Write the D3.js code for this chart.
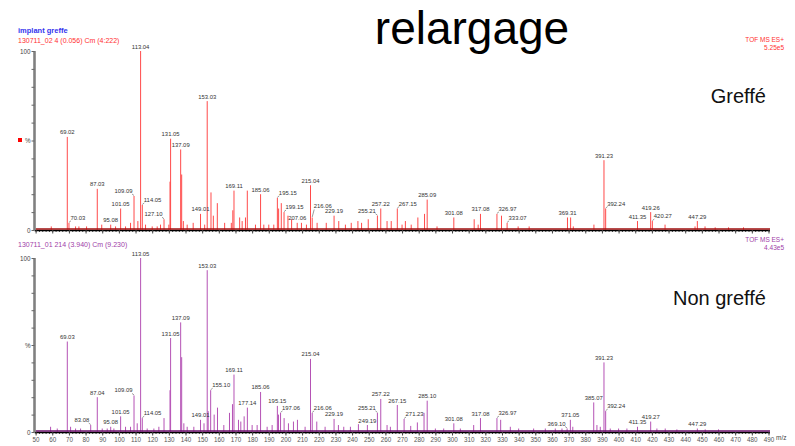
<!DOCTYPE html>
<html><head><meta charset="utf-8">
<script src="https://cdn.jsdelivr.net/npm/d3@7"></script>
<style>body{margin:0;background:#fff}svg{display:block;font-family:"Liberation Sans",Arial,sans-serif}</style>
</head><body><svg id="c" width="795" height="446"></svg>
<script>
// ---------- data ----------
const mzDomain = [50, 490];
const xTickValues = d3.range(50, 491, 10);
const xMinorTickValues = d3.range(50, 491, 2);
const yTickValues = d3.range(0, 101, 10);
const yTickText = {0: "0", 50: "%", 100: "100"};

const titleText = "relargage";
const topName = "implant greffe";
const topRun = "130711_02 4 (0.056) Cm (4:222)";
const topMode = "TOF MS ES+";
const topScale = "5.25e5";
const topTag = "Greffé";
const botRun = "130711_01 214 (3.940) Cm (9.230)";
const botMode = "TOF MS ES+";
const botScale = "4.43e5";
const botTag = "Non greffé";

// labelled peaks [m/z, relative intensity %]
const topLabeled = [[69.02,52],[70.03,4],[87.03,23],[95.08,3],[101.05,12],[109.09,19],[113.04,100],[114.05,14],[127.10,6],[131.05,51],[137.09,45],[149.01,9],[153.03,72],[169.11,22],[185.06,20],[195.15,18],[199.15,10],[207.06,4],[215.04,25],[216.06,7],[229.19,8],[255.21,8],[257.22,12],[267.15,12],[285.09,17],[301.08,7],[317.08,9],[326.97,9],[333.07,4],[369.31,7],[391.23,39],[392.24,12],[411.35,5],[419.26,10],[420.27,5],[447.29,5]];
const topMinor = [[59.4,2],[74,2],[76,2],[80.6,2],[89.7,3],[98,2],[104,2],[107,4],[111.4,5],[116,3],[120,2],[123,2],[125,3],[130,3],[130.7,27],[137.7,31],[138.7,5],[141,3],[144.6,4],[151.5,3],[155.3,21],[156.7,8],[159.1,15],[163.5,4],[167.5,4],[168.4,11],[172.5,7],[174,5],[176,7],[177.1,22],[182,3],[187,3],[190,3],[193,3],[195.9,12],[197.5,15],[201.5,8],[203.7,6],[209.6,4],[212.6,3],[219,4],[224.5,4],[232,5],[236,3],[239.5,4],[243.5,5],[245.7,4],[249.7,6],[261,5],[263.5,5],[270,3],[272,5],[275.5,3],[279.5,7],[283.5,9],[291,2],[313.3,6],[315.7,3],[329.7,8],[339.7,2],[346.3,2],[371.2,7],[372.8,2],[385.2,3],[427.9,3],[445.9,2],[451.9,2],[458,1.5],[466,1.5],[475,1.5]];

const botLabeled = [[69.03,52],[83.08,4],[87.04,20],[95.08,3],[101.05,9],[109.09,21],[113.05,100],[114.05,8],[131.05,54],[137.09,63],[149.01,7],[153.03,93],[155.10,24],[169.11,33],[177.14,14],[185.06,23],[195.15,15],[197.06,11],[215.04,42],[216.06,11],[229.19,7.5],[249.19,4],[255.21,11],[257.22,19],[267.15,15.5],[271.23,7.5],[285.10,18],[301.08,5],[317.08,8],[326.97,8],[369.10,2],[371.05,7],[385.07,17],[391.23,40],[392.24,12],[411.35,3],[419.27,6],[447.29,2]];
const botMinor = [[59,3],[63,2],[71,3],[74,2],[77,2],[90,2],[93,2],[97,2],[104,3],[107,3],[111,5],[117,2],[121,2],[124,3],[127.1,8],[130.7,24],[137.7,43],[139,5],[141,3],[145,3],[151.1,5],[153.6,12],[157.2,10],[159.2,14],[163,4],[166.4,11],[168.2,16],[171.8,7],[173.2,6],[175.2,9],[180,4],[183,4],[189,3],[192,4],[195.8,10],[199.2,8],[201.8,5],[204.8,6],[207.2,7],[211.8,3],[218.8,6],[223.8,3],[231.8,4],[235,3],[239,3],[243.8,4.5],[261,4],[263,3],[275.2,3.5],[279.2,5.5],[283.2,11],[290,2],[295,2],[305,2],[313,4],[329.2,7],[335,3],[340,2],[349,2],[356,2],[362,2],[366,2],[372.5,3],[387,4],[389,3],[395,2],[400,2],[405,2],[423,2],[428,2],[435,1.5],[452,1.5],[460,1.5]];

// ---------- drawing ----------
const svg = d3.select("#c");
const x = d3.scaleLinear().domain(mzDomain).range([35.6, 768.5]);
const fmt = d3.format(".2f");
const FONT = "Liberation Sans, Arial, sans-serif";

svg.append("text").attr("x", 472).attr("y", 44).attr("text-anchor", "middle")
  .attr("font-size", 46).attr("fill", "#000").text(titleText);

function drawPanel(cfg) {
  const y = d3.scaleLinear().domain([0, 100]).range([cfg.base, cfg.top]);
  const g = svg.append("g");

  // x axis (baseline)
  const xa = g.append("g").attr("transform", `translate(0,${cfg.base})`);
  xa.call(d3.axisBottom(x).tickValues(xMinorTickValues).tickSize(2).tickSizeOuter(0).tickFormat(""));
  xa.select(".domain").remove();
  xa.selectAll("line").attr("stroke", "#444");
  const xb = g.append("g").attr("transform", `translate(0,${cfg.base})`);
  xb.call(d3.axisBottom(x).tickValues(xTickValues).tickSize(3.5).tickSizeOuter(0).tickPadding(2.5)
    .tickFormat(cfg.xLabels ? d3.format("d") : ""));
  xb.select(".domain").attr("d", `M${x(50) - 1},0.5H770`).attr("stroke", "#000").attr("stroke-width", 1.6);
  xb.selectAll("line").attr("stroke", "#444");
  xb.selectAll("text").attr("font-size", 6.3).attr("fill", "#555").attr("font-family", FONT);

  // peaks
  const all = cfg.labeled.map(d => ({mz: d[0], v: d[1], lab: true}))
    .concat(cfg.minor.map(d => ({mz: d[0], v: d[1], lab: false})));
  g.append("g").selectAll("line").data(all).join("line")
    .attr("x1", d => x(d.mz)).attr("x2", d => x(d.mz))
    .attr("y1", y(0)).attr("y2", d => y(d.v))
    .attr("stroke", cfg.color).attr("stroke-width", 1);
  // dark baseline band
  g.append("line").attr("x1", x(50)).attr("x2", 770).attr("y1", cfg.base - 1).attr("y2", cfg.base - 1)
    .attr("stroke", cfg.dark).attr("stroke-width", 1.5);

  // y axis
  const ya = g.append("g").attr("transform", "translate(34.5,0)");
  ya.call(d3.axisLeft(y).tickValues(yTickValues).tickSize(3).tickSizeOuter(0).tickPadding(1)
    .tickFormat(d => yTickText[d] || ""));
  ya.select(".domain").attr("d", `M0,${cfg.top}V${cfg.base}`).attr("stroke", "#808080").attr("stroke-width", 2.6);
  ya.selectAll("line").attr("stroke", "#666");
  ya.selectAll("text").attr("font-size", 6.3).attr("fill", "#444").attr("font-family", FONT);

  // peak labels with simple greedy placement
  const obstacles = all.filter(d => d.lab || d.v >= 8).map(d => ({x: x(d.mz), top: y(d.v), mz: d.mz}));
  const placed = [];
  const order = cfg.labeled.map(d => ({mz: d[0], v: d[1]})).sort((a, b) => b.v - a.v);
  const lg = g.append("g");
  order.forEach(d => {
    const px = x(d.mz), py = y(d.v);
    const t = lg.append("text").text(fmt(d.mz)).attr("font-size", 5.9).attr("fill", "#333");
    const w = t.node().getComputedTextLength();
    const hgt = 4.3;
    const cands = [{x0: px - w / 2, base: py - 2.5, lead: false}];
    for (const dy of [3, 6, 9, 12, 15, 18, 22, 26, 30]) {
      cands.push({x0: px + 1.5, base: py - dy, lead: "r"});
      cands.push({x0: px - 1.5 - w, base: py - dy, lead: "l"});
    }
    let chosen = null;
    for (const c of cands) {
      const b = {x0: c.x0, x1: c.x0 + w, y0: c.base - hgt, y1: c.base};
      if (b.x1 > 772) continue;
      if (placed.some(p => !(b.x1 < p.x0 || b.x0 > p.x1 || b.y1 < p.y0 || b.y0 > p.y1))) continue;
      if (obstacles.some(o => o.mz !== d.mz && o.x > b.x0 && o.x < b.x1 && o.top < b.y1)) continue;
      chosen = c; chosen.b = b; break;
    }
    if (!chosen) {
      chosen = cands[0];
      chosen.b = {x0: chosen.x0, x1: chosen.x0 + w, y0: chosen.base - hgt, y1: chosen.base};
    }
    placed.push(chosen.b);
    t.attr("x", chosen.x0).attr("y", chosen.base);
    if (chosen.lead) {
      lg.append("line").attr("x1", px).attr("y1", py - 0.5)
        .attr("x2", chosen.lead === "r" ? chosen.x0 + 0.5 : chosen.x0 + w - 0.5).attr("y2", chosen.base + 1)
        .attr("stroke", "#555").attr("stroke-width", 0.6);
    }
  });

  // headers
  g.append("text").attr("x", 18).attr("y", cfg.runY).attr("font-size", 7).attr("fill", cfg.textColor).text(cfg.run);
  g.append("text").attr("x", 784).attr("y", cfg.modeY).attr("text-anchor", "end").attr("font-size", 6.5).attr("fill", cfg.textColor).text(cfg.mode);
  g.append("text").attr("x", 784).attr("y", cfg.modeY + 7.5).attr("text-anchor", "end").attr("font-size", 6.5).attr("fill", cfg.textColor).text(cfg.scale);
  g.append("text").attr("x", 766).attr("y", cfg.tagY).attr("text-anchor", "end").attr("font-size", 20).attr("fill", "#111").text(cfg.tag);
}

svg.append("text").attr("x", 18).attr("y", 33).attr("font-size", 7.5).attr("font-weight", "bold")
  .attr("fill", "#3333ee").text(topName);
svg.append("rect").attr("x", 18).attr("y", 138).attr("width", 4).attr("height", 4).attr("fill", "#ff0000");

drawPanel({base: 230, top: 51, labeled: topLabeled, minor: topMinor, color: "#ff4a4a", dark: "#a01010",
  textColor: "#ff3030", run: topRun, runY: 43, mode: topMode, modeY: 42, scale: topScale, tag: topTag, tagY: 103, xLabels: false});
drawPanel({base: 432, top: 258, labeled: botLabeled, minor: botMinor, color: "#b552b5", dark: "#6a106a",
  textColor: "#a040a8", run: botRun, runY: 247, mode: botMode, modeY: 242, scale: botScale, tag: botTag, tagY: 305, xLabels: true});

svg.append("text").attr("x", 776).attr("y", 440).attr("font-size", 6.5).attr("fill", "#444").text("m/z");
</script></body></html>
